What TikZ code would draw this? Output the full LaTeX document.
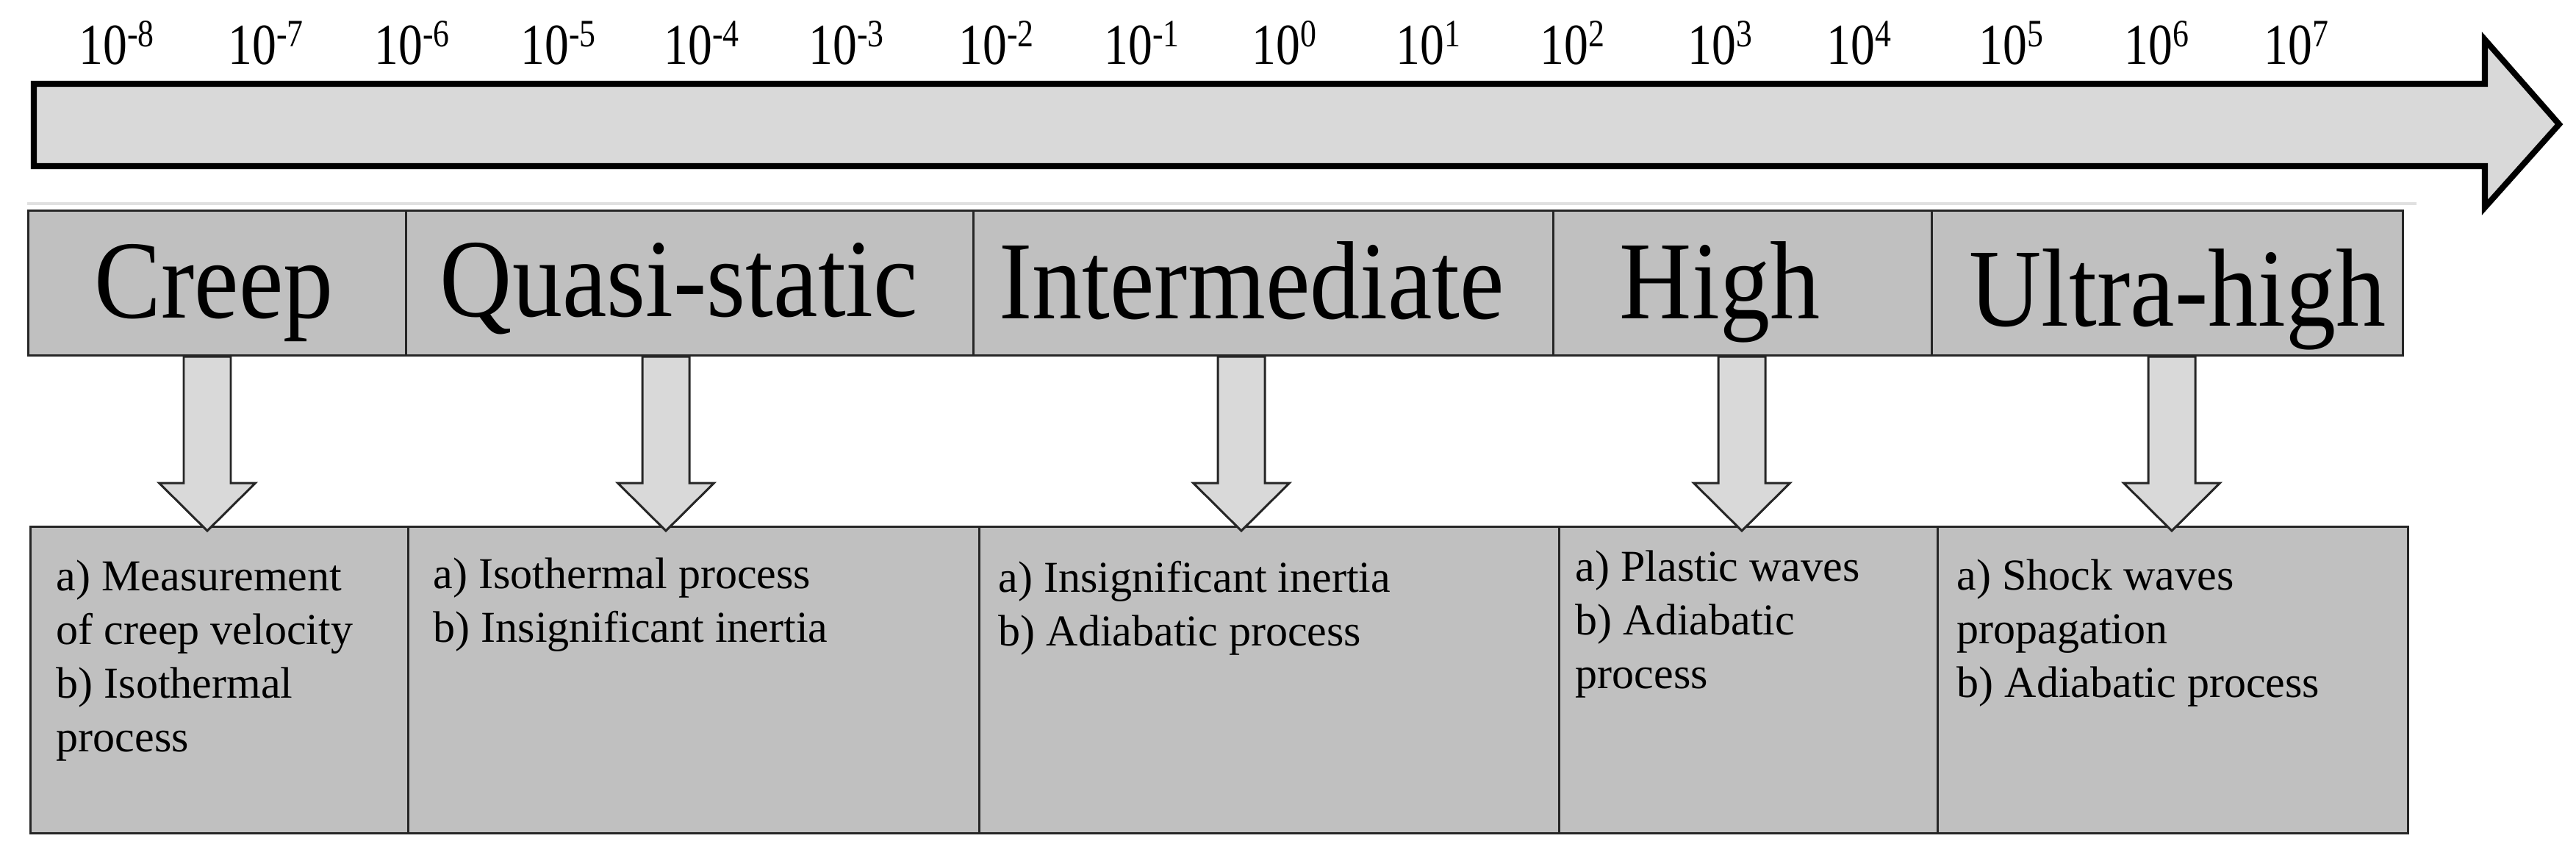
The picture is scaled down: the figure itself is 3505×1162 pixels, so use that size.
\documentclass[tikz,border=0pt]{standalone}
\usepackage{fontspec}
\usetikzlibrary{calc}
\setmainfont{Liberation Serif}
\newfontfamily\hdfont[FakeStretch=0.9]{Liberation Serif}
\newfontfamily\tkfont[FakeStretch=0.83]{Liberation Serif}
\definecolor{cellgray}{RGB}{192,192,192}
\definecolor{arrowgray}{RGB}{217,217,217}
\definecolor{linegray}{RGB}{224,224,224}
\newcommand\tkl[1]{10{\fontsize{15pt}{16pt}\selectfont\raisebox{6.8pt}{#1}}}
\newcommand\lines[1]{\begin{tabular}[t]{@{}l@{}}#1\end{tabular}}
\tikzset{
  cellbox/.style={draw=black!85, line width=0.85pt, fill=cellgray, anchor=north west, inner sep=0pt},
  blockarrow/.style={draw=black!85, line width=0.85pt, fill=arrowgray, line join=miter},
  bigarrow/.style={draw=black, line width=2.3pt, fill=arrowgray, line join=miter},
  ticktext/.style={font=\tkfont\fontsize{22.5pt}{26pt}\selectfont, anchor=base west, inner sep=0pt},
  headtext/.style={font=\hdfont\fontsize{43pt}{50pt}\selectfont, anchor=base, inner sep=0pt},
  bodytext/.style={font=\fontsize{17.07pt}{20.8pt}\selectfont, anchor=base west, inner sep=0pt},
}
\newcommand\dnarrow[4]{%
  \coordinate (t#1) at (#2,0 |- #3.south);
  \coordinate (e#1) at (#2,0 |- #4.north);
  \draw[blockarrow] ($(t#1)+(-32,0)$) -- ($(e#1)+(-32,-58)$) -- ($(e#1)+(-65.5,-58)$)
     -- ($(e#1)+(0,7)$) -- ($(e#1)+(65.5,-58)$) -- ($(e#1)+(32,-58)$) -- ($(t#1)+(32,0)$) -- cycle;}
\begin{document}
\begin{tikzpicture}[x=0.01cm,y=-0.01cm]
\useasboundingbox (0,0) rectangle (3505,1162);

% tick labels
\node[ticktext] (l1)  at (107,87)  {\tkl{-8}};
\node[ticktext] (l2)  at (310,87)  {\tkl{-7}};
\node[ticktext] (l3)  at (509,87)  {\tkl{-6}};
\node[ticktext] (l4)  at (708,87)  {\tkl{-5}};
\node[ticktext] (l5)  at (903,87)  {\tkl{-4}};
\node[ticktext] (l6)  at (1100,87) {\tkl{-3}};
\node[ticktext] (l7)  at (1304,87) {\tkl{-2}};
\node[ticktext] (l8)  at (1502,87) {\tkl{-1}};
\node[ticktext] (l9)  at (1703,87) {\tkl{0}};
\node[ticktext] (l10) at (1899,87) {\tkl{1}};
\node[ticktext] (l11) at (2095,87) {\tkl{2}};
\node[ticktext] (l12) at (2296,87) {\tkl{3}};
\node[ticktext] (l13) at (2485,87) {\tkl{4}};
\node[ticktext] (l14) at (2692,87) {\tkl{5}};
\node[ticktext] (l15) at (2890,87) {\tkl{6}};
\node[ticktext] (l16) at (3080,87) {\tkl{7}};

% big arrow
\draw[bigarrow] (46,114) -- (3381,114) -- (3381,54) -- (3482,169) -- (3381,282)
  -- (3381,226) -- (46,226) -- cycle;

% thin separator line
\draw[linegray, line width=1.2pt] (37,277) -- (3288,277);

% header cells
\node[cellbox, minimum width=5.14cm, minimum height=1.97cm] (h1) at (37,285) {};
\node[cellbox, minimum width=7.72cm, minimum height=1.97cm] (h2) at (551,285) {};
\node[cellbox, minimum width=7.89cm, minimum height=1.97cm] (h3) at (1323,285) {};
\node[cellbox, minimum width=5.15cm, minimum height=1.97cm] (h4) at (2112,285) {};
\node[cellbox, minimum width=6.41cm, minimum height=1.97cm] (h5) at (2627,285) {};

\node[headtext] (ht1) at (291,432)  {Creep};
\node[headtext] (ht2) at (924,430)  {Quasi-static};
\node[headtext] (ht3) at (1703,433) {Intermediate};
\node[headtext] (ht4) at (2340,433) {High};
\node[headtext] (ht5) at (2963,443) {Ultra-high};

% bottom cells
\node[cellbox, minimum width=5.14cm, minimum height=4.17cm] (b1) at (40,715) {};
\node[cellbox, minimum width=7.77cm, minimum height=4.17cm] (b2) at (554,715) {};
\node[cellbox, minimum width=7.89cm, minimum height=4.17cm] (b3) at (1331,715) {};
\node[cellbox, minimum width=5.15cm, minimum height=4.17cm] (b4) at (2120,715) {};
\node[cellbox, minimum width=6.40cm, minimum height=4.17cm] (b5) at (2635,715) {};

\node[bodytext] (bt1) at (76,803)   {\lines{a) Measurement\\of creep velocity\\b) Isothermal\\process}};
\node[bodytext] (bt2) at (589,800)  {\lines{a) Isothermal process\\b) Insignificant inertia}};
\node[bodytext] (bt3) at (1358,805) {\lines{a) Insignificant inertia\\b) Adiabatic process}};
\node[bodytext] (bt4) at (2143,790) {\lines{a) Plastic waves\\b) Adiabatic\\process}};
\node[bodytext] (bt5) at (2662,802) {\lines{a) Shock waves\\propagation\\b) Adiabatic process}};

% down arrows
\dnarrow{1}{282}{h1}{b1}
\dnarrow{2}{906}{h2}{b2}
\dnarrow{3}{1689}{h3}{b3}
\dnarrow{4}{2370}{h4}{b4}
\dnarrow{5}{2955}{h5}{b5}
\end{tikzpicture}
\end{document}
